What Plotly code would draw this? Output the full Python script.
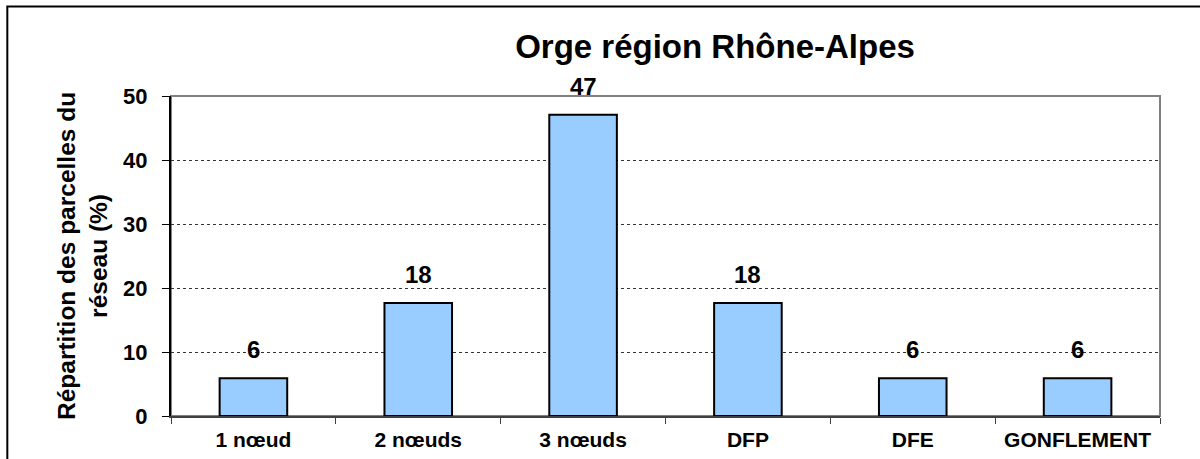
import plotly.graph_objects as go

categories = ["1 nœud", "2 nœuds", "3 nœuds", "DFP", "DFE", "GONFLEMENT"]
values = [5.88, 17.65, 47.06, 17.65, 5.88, 5.88]
labels = ["6", "18", "47", "18", "6", "6"]
y_ticks = [0, 10, 20, 30, 40, 50]

FONT = "Liberation Sans, Arial, sans-serif"

fig = go.Figure()
fig.add_trace(go.Bar(x=categories, y=values, width=0.41,
                     marker=dict(color="#99CCFF", line=dict(color="black", width=2)),
                     hoverinfo="x+y"))

# value labels above the bars
for c, v, t in zip(categories, values, labels):
    fig.add_annotation(x=c, y=v, text=t, showarrow=False,
                       yanchor="bottom", yshift=13,
                       font=dict(family=FONT, size=24, color="black", weight="bold"))

# y axis title, two lines
fig.add_annotation(xref="paper", yref="paper", x=-0.09, y=0.5,
                   text="Répartition des parcelles du<br>réseau (%)",
                   textangle=-90, showarrow=False, xanchor="center", yanchor="middle",
                   font=dict(family=FONT, size=24.5, color="black", weight="bold"))

# grey frame of the plot area and black frame of the chart
fig.add_shape(type="rect", xref="paper", yref="paper", x0=0, x1=1, y0=0, y1=1,
              line=dict(color="#808080", width=2), layer="below")
fig.add_shape(type="rect", xref="paper", yref="paper", x0=-0.1655, x1=1.1, y0=-0.5, y1=1.2795,
              line=dict(color="black", width=2), layer="below")

fig.update_layout(
    width=1200, height=459,
    margin=dict(l=171, r=40, t=96, b=43),
    paper_bgcolor="white", plot_bgcolor="white",
    showlegend=False,
    title=dict(text="Orge région Rhône-Alpes", x=715 / 1200, xanchor="center",
               y=1 - 46 / 459, yanchor="middle", yref="container",
               font=dict(family=FONT, size=33, color="black", weight="bold")),
    font=dict(family=FONT, color="black"),
)
fig.update_xaxes(type="category", showline=True, linecolor="#404040", linewidth=2,
                 ticks="outside", tickson="boundaries", ticklen=6, tickcolor="#404040",
                 tickwidth=1, showgrid=False, ticklabelstandoff=4, automargin=False,
                 tickfont=dict(family=FONT, size=21, color="black", weight="bold"))
fig.update_yaxes(range=[0, 50], tickvals=y_ticks, showline=True, linecolor="black",
                 linewidth=2, ticks="outside", ticklen=7, tickcolor="black", tickwidth=1,
                 showgrid=True, gridcolor="#333333", gridwidth=1, griddash="dot",
                 zeroline=False, ticklabelstandoff=10, automargin=False,
                 tickfont=dict(family=FONT, size=22, color="black", weight="bold"))

fig.write_html("out.html", config={"displayModeBar": False},
               post_script="document.body.style.margin='0';")
